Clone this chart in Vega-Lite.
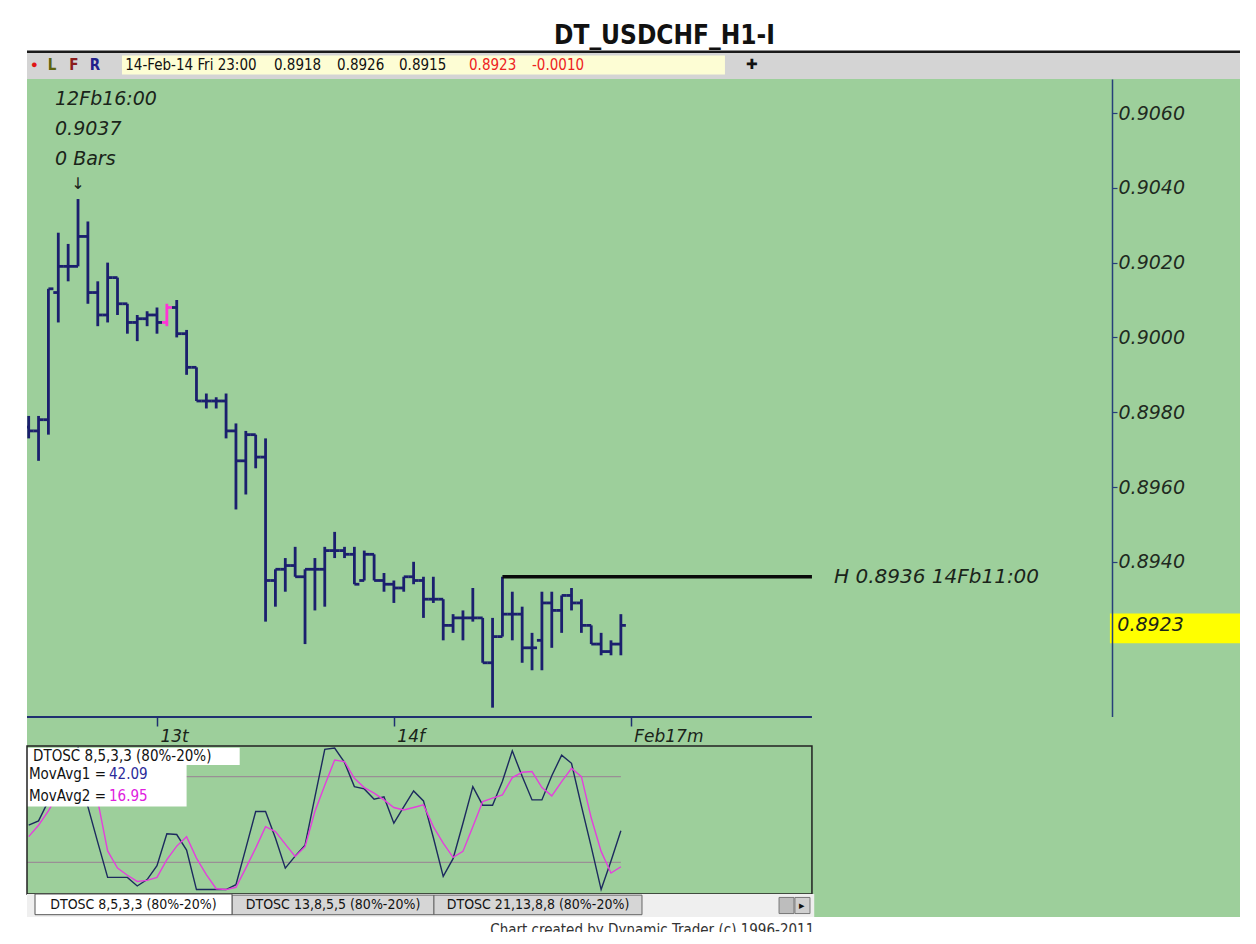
{
  "$schema": "https://vega.github.io/schema/vega-lite/v6.json",
  "background": "white",
  "padding": {"left": 25, "right": 18, "top": 22, "bottom": 12},
  "title": {"text": "DT_USDCHF_H1-I", "font": "'Liberation Sans Narrow', 'DejaVu Sans Condensed', sans-serif", "fontSize": 26, "fontWeight": "bold", "color": "#111111", "anchor": "middle", "dx": 31, "offset": 2},
  "config": {"view": {"stroke": null}, "concat": {"spacing": 0}},
  "datasets": {
    "one": [{}],
    "levels": [{"lvl": 80}, {"lvl": 20}],
    "bars": [
      {"t": -13, "o": 0.8976, "h": 0.8979, "l": 0.8973, "c": 0.8975},
      {"t": -12, "o": 0.8975, "h": 0.8979, "l": 0.8967, "c": 0.8978},
      {"t": -11, "o": 0.8978, "h": 0.9013, "l": 0.8974, "c": 0.9013},
      {"t": -10, "o": 0.9012, "h": 0.9028, "l": 0.9004, "c": 0.9019},
      {"t": -9, "o": 0.9019, "h": 0.9025, "l": 0.9015, "c": 0.9019},
      {"t": -8, "o": 0.9019, "h": 0.9037, "l": 0.9019, "c": 0.9027},
      {"t": -7, "o": 0.9027, "h": 0.9031, "l": 0.9009, "c": 0.9012},
      {"t": -6, "o": 0.9012, "h": 0.9015, "l": 0.9003, "c": 0.9006},
      {"t": -5, "o": 0.9006, "h": 0.9020, "l": 0.9004, "c": 0.9016},
      {"t": -4, "o": 0.9016, "h": 0.9016, "l": 0.9006, "c": 0.9009},
      {"t": -3, "o": 0.9009, "h": 0.9009, "l": 0.9001, "c": 0.9004},
      {"t": -2, "o": 0.9004, "h": 0.9006, "l": 0.8999, "c": 0.9005},
      {"t": -1, "o": 0.9005, "h": 0.9007, "l": 0.9003, "c": 0.9006},
      {"t": 0, "o": 0.9006, "h": 0.9008, "l": 0.9001, "c": 0.9004},
      {"t": 1, "o": 0.9004, "h": 0.9009, "l": 0.9003, "c": 0.9008},
      {"t": 2, "o": 0.9008, "h": 0.9010, "l": 0.9000, "c": 0.9001},
      {"t": 3, "o": 0.9001, "h": 0.9002, "l": 0.8990, "c": 0.8992},
      {"t": 4, "o": 0.8992, "h": 0.8992, "l": 0.8983, "c": 0.8983},
      {"t": 5, "o": 0.8983, "h": 0.8985, "l": 0.8981, "c": 0.8983},
      {"t": 6, "o": 0.8983, "h": 0.8984, "l": 0.8981, "c": 0.8983},
      {"t": 7, "o": 0.8983, "h": 0.8985, "l": 0.8973, "c": 0.8975},
      {"t": 8, "o": 0.8975, "h": 0.8977, "l": 0.8954, "c": 0.8967},
      {"t": 9, "o": 0.8967, "h": 0.8975, "l": 0.8958, "c": 0.8974},
      {"t": 10, "o": 0.8974, "h": 0.8974, "l": 0.8965, "c": 0.8968},
      {"t": 11, "o": 0.8968, "h": 0.8973, "l": 0.8924, "c": 0.8935},
      {"t": 12, "o": 0.8935, "h": 0.8938, "l": 0.8928, "c": 0.8938},
      {"t": 13, "o": 0.8938, "h": 0.8941, "l": 0.8932, "c": 0.8939},
      {"t": 14, "o": 0.8939, "h": 0.8944, "l": 0.8936, "c": 0.8936},
      {"t": 15, "o": 0.8936, "h": 0.8938, "l": 0.8918, "c": 0.8938},
      {"t": 16, "o": 0.8938, "h": 0.8941, "l": 0.8927, "c": 0.8938},
      {"t": 17, "o": 0.8938, "h": 0.8944, "l": 0.8928, "c": 0.8943},
      {"t": 18, "o": 0.8943, "h": 0.8948, "l": 0.8941, "c": 0.8943},
      {"t": 19, "o": 0.8943, "h": 0.8944, "l": 0.8941, "c": 0.8942},
      {"t": 20, "o": 0.8942, "h": 0.8944, "l": 0.8934, "c": 0.8934},
      {"t": 21, "o": 0.8935, "h": 0.8943, "l": 0.8935, "c": 0.8942},
      {"t": 22, "o": 0.8942, "h": 0.8942, "l": 0.8935, "c": 0.8935},
      {"t": 23, "o": 0.8935, "h": 0.8937, "l": 0.8932, "c": 0.8934},
      {"t": 24, "o": 0.8934, "h": 0.8935, "l": 0.8929, "c": 0.8933},
      {"t": 25, "o": 0.8933, "h": 0.8936, "l": 0.8932, "c": 0.8936},
      {"t": 26, "o": 0.8936, "h": 0.8940, "l": 0.8934, "c": 0.8935},
      {"t": 27, "o": 0.8935, "h": 0.8936, "l": 0.8925, "c": 0.8930},
      {"t": 28, "o": 0.8930, "h": 0.8936, "l": 0.8929, "c": 0.8930},
      {"t": 29, "o": 0.8930, "h": 0.8930, "l": 0.8919, "c": 0.8923},
      {"t": 30, "o": 0.8923, "h": 0.8926, "l": 0.8921, "c": 0.8925},
      {"t": 31, "o": 0.8925, "h": 0.8927, "l": 0.8919, "c": 0.8925},
      {"t": 32, "o": 0.8925, "h": 0.8933, "l": 0.8924, "c": 0.8925},
      {"t": 33, "o": 0.8925, "h": 0.8925, "l": 0.8913, "c": 0.8913},
      {"t": 34, "o": 0.8913, "h": 0.8925, "l": 0.8901, "c": 0.8920},
      {"t": 35, "o": 0.8920, "h": 0.8936, "l": 0.8920, "c": 0.8926},
      {"t": 36, "o": 0.8926, "h": 0.8932, "l": 0.8919, "c": 0.8926},
      {"t": 37, "o": 0.8926, "h": 0.8928, "l": 0.8913, "c": 0.8917},
      {"t": 38, "o": 0.8917, "h": 0.8921, "l": 0.8911, "c": 0.8917},
      {"t": 39, "o": 0.8919, "h": 0.8932, "l": 0.8911, "c": 0.8929},
      {"t": 40, "o": 0.8929, "h": 0.8932, "l": 0.8917, "c": 0.8927},
      {"t": 41, "o": 0.8927, "h": 0.8931, "l": 0.8921, "c": 0.8931},
      {"t": 42, "o": 0.8931, "h": 0.8933, "l": 0.8927, "c": 0.8929},
      {"t": 43, "o": 0.8929, "h": 0.8930, "l": 0.8921, "c": 0.8923},
      {"t": 44, "o": 0.8923, "h": 0.8923, "l": 0.8918, "c": 0.8918},
      {"t": 45, "o": 0.8918, "h": 0.8921, "l": 0.8915, "c": 0.8916},
      {"t": 46, "o": 0.8916, "h": 0.8919, "l": 0.8915, "c": 0.8918},
      {"t": 47, "o": 0.8918, "h": 0.8926, "l": 0.8915, "c": 0.8923}
    ],
    "osc": [
      {"t": -13, "fast": 46, "slow": 38},
      {"t": -12, "fast": 49, "slow": 46},
      {"t": -11, "fast": 63, "slow": 56},
      {"t": -10, "fast": 80, "slow": 68},
      {"t": -9, "fast": 93, "slow": 80},
      {"t": -8, "fast": 100, "slow": 90},
      {"t": -7, "fast": 59, "slow": 82},
      {"t": -6, "fast": 34, "slow": 63},
      {"t": -5, "fast": 9.5, "slow": 28},
      {"t": -4, "fast": 9.5, "slow": 16},
      {"t": -3, "fast": 9.5, "slow": 11},
      {"t": -2, "fast": 3.5, "slow": 6.7},
      {"t": -1, "fast": 8, "slow": 7.4},
      {"t": 0, "fast": 17.7, "slow": 9.5},
      {"t": 1, "fast": 40, "slow": 22},
      {"t": 2, "fast": 39.5, "slow": 31.4},
      {"t": 3, "fast": 28.6, "slow": 38},
      {"t": 4, "fast": 1, "slow": 23},
      {"t": 5, "fast": 1, "slow": 11.4},
      {"t": 6, "fast": 1, "slow": 1.6},
      {"t": 7, "fast": 1, "slow": 1},
      {"t": 8, "fast": 4.4, "slow": 2.6},
      {"t": 9, "fast": 29.8, "slow": 16},
      {"t": 10, "fast": 55.6, "slow": 30},
      {"t": 11, "fast": 55.6, "slow": 45},
      {"t": 12, "fast": 37, "slow": 41.6},
      {"t": 13, "fast": 16, "slow": 32.8},
      {"t": 14, "fast": 24.4, "slow": 24.2},
      {"t": 15, "fast": 32, "slow": 31},
      {"t": 16, "fast": 65.6, "slow": 55.6},
      {"t": 17, "fast": 99, "slow": 74},
      {"t": 18, "fast": 100, "slow": 91.6},
      {"t": 19, "fast": 89.9, "slow": 90.5},
      {"t": 20, "fast": 73, "slow": 78.8},
      {"t": 21, "fast": 71.4, "slow": 72.3},
      {"t": 22, "fast": 64.2, "slow": 68.4},
      {"t": 23, "fast": 65.8, "slow": 63.7},
      {"t": 24, "fast": 47.4, "slow": 58.4},
      {"t": 25, "fast": 58.8, "slow": 56.7},
      {"t": 26, "fast": 70, "slow": 58.4},
      {"t": 27, "fast": 63, "slow": 60.2},
      {"t": 28, "fast": 37.4, "slow": 45},
      {"t": 29, "fast": 10.2, "slow": 33.5},
      {"t": 30, "fast": 22.6, "slow": 23.5},
      {"t": 31, "fast": 47.4, "slow": 27.7},
      {"t": 32, "fast": 73, "slow": 45},
      {"t": 33, "fast": 60, "slow": 62.6},
      {"t": 34, "fast": 60, "slow": 65},
      {"t": 35, "fast": 76.7, "slow": 67.2},
      {"t": 36, "fast": 98, "slow": 79.3},
      {"t": 37, "fast": 80.2, "slow": 83},
      {"t": 38, "fast": 63.7, "slow": 83.5},
      {"t": 39, "fast": 63.7, "slow": 72.3},
      {"t": 40, "fast": 80.6, "slow": 66.5},
      {"t": 41, "fast": 95, "slow": 76.5},
      {"t": 42, "fast": 89.3, "slow": 85.8},
      {"t": 43, "fast": 59.5, "slow": 80},
      {"t": 44, "fast": 30.8, "slow": 51},
      {"t": 45, "fast": 1, "slow": 27.7},
      {"t": 46, "fast": 21, "slow": 12.6},
      {"t": 47, "fast": 42.09, "slow": 16.95}
    ]
  },
  "bounds": "flush",
  "spacing": 0,
  "resolve": {"scale": {"x": "independent", "y": "independent"}, "axis": {"x": "independent", "y": "independent"}},
  "vconcat": [
    {
      "width": 1213, "height": 28,
      "view": {"fill": "#d4d4d4", "stroke": null},
      "data": {"name": "one"},
      "layer": [
        {"mark": {"type": "rect", "color": "#fdfdd4"},
         "encoding": {
           "x": {"datum": 7.83, "type": "quantitative", "scale": {"domain": [0, 100], "nice": false, "zero": false}, "axis": null},
           "x2": {"datum": 57.54},
           "y": {"datum": 0.16, "type": "quantitative", "scale": {"domain": [0, 1], "nice": false, "zero": false}, "axis": null},
           "y2": {"datum": 0.84}}},
        {"mark": {"type": "rule", "color": "#1a1a1a", "strokeWidth": 2.5},
         "encoding": {"x": {"datum": 0, "type": "quantitative", "axis": null}, "x2": {"datum": 100}, "y": {"datum": 0.97, "type": "quantitative", "axis": null}}},
        {"mark": {"type": "text", "text": "●", "color": "#e01515", "fontSize": 11, "align": "center", "baseline": "middle"},
         "encoding": {"x": {"datum": 0.6, "type": "quantitative", "axis": null}, "y": {"datum": 0.5, "type": "quantitative", "axis": null}}},
        {"mark": {"type": "text", "text": "L", "color": "#5e6410", "fontSize": 15, "fontWeight": "bold", "font": "DejaVu Sans Condensed", "align": "center", "baseline": "middle"},
         "encoding": {"x": {"datum": 2.06, "type": "quantitative", "axis": null}, "y": {"datum": 0.5, "type": "quantitative", "axis": null}}},
        {"mark": {"type": "text", "text": "F", "color": "#8b1c1c", "fontSize": 15, "fontWeight": "bold", "font": "DejaVu Sans Condensed", "align": "center", "baseline": "middle"},
         "encoding": {"x": {"datum": 3.87, "type": "quantitative", "axis": null}, "y": {"datum": 0.5, "type": "quantitative", "axis": null}}},
        {"mark": {"type": "text", "text": "R", "color": "#20208b", "fontSize": 15, "fontWeight": "bold", "font": "DejaVu Sans Condensed", "align": "center", "baseline": "middle"},
         "encoding": {"x": {"datum": 5.61, "type": "quantitative", "axis": null}, "y": {"datum": 0.5, "type": "quantitative", "axis": null}}},
        {"mark": {"type": "text", "text": "14-Feb-14 Fri 23:00", "color": "#111111", "fontSize": 15, "font": "DejaVu Sans Condensed", "align": "left", "baseline": "middle"},
         "encoding": {"x": {"datum": 8.1, "type": "quantitative", "axis": null}, "y": {"datum": 0.5, "type": "quantitative", "axis": null}}},
        {"mark": {"type": "text", "text": "0.8918", "color": "#111111", "fontSize": 15, "font": "DejaVu Sans Condensed", "align": "left", "baseline": "middle"},
         "encoding": {"x": {"datum": 20.36, "type": "quantitative", "axis": null}, "y": {"datum": 0.5, "type": "quantitative", "axis": null}}},
        {"mark": {"type": "text", "text": "0.8926", "color": "#111111", "fontSize": 15, "font": "DejaVu Sans Condensed", "align": "left", "baseline": "middle"},
         "encoding": {"x": {"datum": 25.56, "type": "quantitative", "axis": null}, "y": {"datum": 0.5, "type": "quantitative", "axis": null}}},
        {"mark": {"type": "text", "text": "0.8915", "color": "#111111", "fontSize": 15, "font": "DejaVu Sans Condensed", "align": "left", "baseline": "middle"},
         "encoding": {"x": {"datum": 30.67, "type": "quantitative", "axis": null}, "y": {"datum": 0.5, "type": "quantitative", "axis": null}}},
        {"mark": {"type": "text", "text": "0.8923", "color": "#ee2222", "fontSize": 15, "font": "DejaVu Sans Condensed", "align": "left", "baseline": "middle"},
         "encoding": {"x": {"datum": 36.44, "type": "quantitative", "axis": null}, "y": {"datum": 0.5, "type": "quantitative", "axis": null}}},
        {"mark": {"type": "text", "text": "-0.0010", "color": "#ee2222", "fontSize": 15, "font": "DejaVu Sans Condensed", "align": "left", "baseline": "middle"},
         "encoding": {"x": {"datum": 41.63, "type": "quantitative", "axis": null}, "y": {"datum": 0.5, "type": "quantitative", "axis": null}}},
        {"mark": {"type": "text", "text": "✚", "color": "#111111", "fontSize": 14, "align": "center", "baseline": "middle"},
         "encoding": {"x": {"datum": 59.8, "type": "quantitative", "axis": null}, "y": {"datum": 0.5, "type": "quantitative", "axis": null}}}
      ]
    },
    {
      "width": 1213, "height": 638,
      "view": {"fill": "#9dcf9b", "stroke": null},
      "resolve": {"axis": {"y": "independent"}},
      "layer": [
        {"data": {"name": "bars"},
         "mark": {"type": "rule", "strokeWidth": 2.8, "clip": true},
         "encoding": {
           "x": {"field": "t", "type": "quantitative", "scale": {"domain": [-13.17, 109.73], "nice": false, "zero": false}, "axis": null},
           "y": {"field": "l", "type": "quantitative", "scale": {"domain": [0.88985, 0.90691], "nice": false, "zero": false},
                 "axis": {"orient": "right", "offset": -128, "zindex": 1, "values": [0.894, 0.896, 0.898, 0.9, 0.902, 0.904, 0.906], "format": ".4f", "title": null, "grid": false,
                          "domainColor": "#27407a", "domainWidth": 1.5, "tickColor": "#27407a", "tickWidth": 1.2, "tickSize": 5, "labelPadding": 1,
                          "labelFont": "DejaVu Sans", "labelFontStyle": "italic", "labelFontSize": 19, "labelColor": "#1f2a1f", "labelOverlap": false, "labelFlush": false}},
           "y2": {"field": "h"},
           "color": {"condition": {"test": "datum.t === 1", "value": "#ff33d6"}, "value": "#1b1f6e"}}},
        {"data": {"name": "bars"},
         "mark": {"type": "point", "shape": "M-1,0H0", "size": 100, "filled": false, "strokeWidth": 2.8, "opacity": 1, "clip": true},
         "encoding": {
           "x": {"field": "t", "type": "quantitative", "axis": null},
           "y": {"field": "o", "type": "quantitative", "axis": null},
           "color": {"condition": {"test": "datum.t === 1", "value": "#ff33d6"}, "value": "#1b1f6e"}}},
        {"data": {"name": "bars"},
         "mark": {"type": "point", "shape": "M0,0H1", "size": 100, "filled": false, "strokeWidth": 2.8, "opacity": 1, "clip": true},
         "encoding": {
           "x": {"field": "t", "type": "quantitative", "axis": null},
           "y": {"field": "c", "type": "quantitative", "axis": null},
           "color": {"condition": {"test": "datum.t === 1", "value": "#ff33d6"}, "value": "#1b1f6e"}}},
        {"data": {"name": "one"},
         "mark": {"type": "rule", "color": "#0a0a0a", "strokeWidth": 3.5},
         "encoding": {"x": {"datum": 35, "type": "quantitative", "axis": null}, "x2": {"datum": 66.36}, "y": {"datum": 0.8936, "type": "quantitative", "axis": null}}},
        {"data": {"name": "one"},
         "mark": {"type": "text", "text": "H 0.8936 14Fb11:00", "font": "DejaVu Sans", "fontStyle": "italic", "fontSize": 20, "color": "#1a241a", "align": "left", "baseline": "middle"},
         "encoding": {"x": {"datum": 68.6, "type": "quantitative", "axis": null}, "y": {"datum": 0.8936, "type": "quantitative", "axis": null}}},
        {"data": {"name": "one"},
         "mark": {"type": "text", "text": ["12Fb16:00", "0.9037", "0 Bars"], "lineHeight": 30, "font": "DejaVu Sans", "fontStyle": "italic", "fontSize": 19, "color": "#1a241a", "align": "left", "baseline": "top"},
         "encoding": {"x": {"datum": -10.33, "type": "quantitative", "axis": null}, "y": {"datum": 0.90662, "type": "quantitative", "axis": null}}},
        {"data": {"name": "one"},
         "mark": {"type": "text", "text": "↓", "font": "DejaVu Sans", "fontSize": 16, "color": "#1a241a", "align": "center", "baseline": "middle"},
         "encoding": {"x": {"datum": -8, "type": "quantitative", "axis": null}, "y": {"datum": 0.9041, "type": "quantitative", "axis": null}}},
        {"data": {"name": "one"},
         "mark": {"type": "rect", "color": "#ffff00"},
         "encoding": {"x": {"datum": 96.55, "type": "quantitative", "axis": null}, "x2": {"datum": 109.73}, "y": {"datum": 0.89262, "type": "quantitative", "axis": null}, "y2": {"datum": 0.89182}}},
        {"data": {"name": "one"},
         "mark": {"type": "text", "text": "0.8923", "font": "DejaVu Sans", "fontStyle": "italic", "fontSize": 19, "color": "#1a241a", "align": "left", "baseline": "middle"},
         "encoding": {"x": {"datum": 97.3, "type": "quantitative", "axis": null}, "y": {"datum": 0.8923, "type": "quantitative", "axis": null}}}
      ]
    },
    {
      "width": 1213, "height": 29,
      "view": {"fill": "#9dcf9b", "stroke": null},
      "data": {"name": "one"},
      "layer": [
        {"mark": {"type": "rule", "color": "#1f3070", "strokeWidth": 2},
         "encoding": {
           "x": {"datum": -13.17, "type": "quantitative", "scale": {"domain": [-13.17, 109.73], "nice": false, "zero": false},
                 "axis": {"orient": "bottom", "offset": -29, "domain": false, "values": [0, 24, 48], "labelExpr": "datum.value === 0 ? '13t' : datum.value === 24 ? '14f' : 'Feb17m'",
                          "title": null, "grid": false, "tickColor": "#1f3070", "tickSize": 9, "tickWidth": 1.5,
                          "labelAlign": "left", "labelOffset": 3, "labelPadding": 2, "labelFont": "DejaVu Sans", "labelFontStyle": "italic", "labelFontSize": 17, "labelColor": "#1a241a", "labelFlush": false, "labelOverlap": false}},
           "x2": {"datum": 66.36},
           "y": {"datum": 1, "type": "quantitative", "scale": {"domain": [0, 1], "nice": false, "zero": false}, "axis": null}}}
      ]
    },
    {
      "width": 1213, "height": 148,
      "view": {"fill": "#9dcf9b", "stroke": null},
      "layer": [
        {"data": {"name": "levels"},
         "mark": {"type": "rule", "color": "#9a8f95", "strokeWidth": 1.2},
         "encoding": {
           "x": {"datum": -13.17, "type": "quantitative", "scale": {"domain": [-13.17, 109.73], "nice": false, "zero": false}, "axis": null},
           "x2": {"datum": 47},
           "y": {"field": "lvl", "type": "quantitative", "scale": {"domain": [-2.1, 101.4], "nice": false, "zero": false}, "axis": null}}},
        {"data": {"name": "osc"},
         "mark": {"type": "line", "color": "#1c2a5e", "strokeWidth": 1.4, "clip": true},
         "encoding": {"x": {"field": "t", "type": "quantitative", "axis": null}, "y": {"field": "fast", "type": "quantitative", "axis": null}}},
        {"data": {"name": "osc"},
         "mark": {"type": "line", "color": "#e43fdc", "strokeWidth": 1.4, "clip": true},
         "encoding": {"x": {"field": "t", "type": "quantitative", "axis": null}, "y": {"field": "slow", "type": "quantitative", "axis": null}}},
        {"data": {"name": "one"},
         "mark": {"type": "rect", "color": "#ffffff"},
         "encoding": {"x": {"datum": -13.17, "type": "quantitative", "axis": null}, "x2": {"datum": 8.38}, "y": {"datum": 100.2, "type": "quantitative", "axis": null}, "y2": {"datum": 88.1}}},
        {"data": {"name": "one"},
         "mark": {"type": "rect", "color": "#ffffff"},
         "encoding": {"x": {"datum": -13.17, "type": "quantitative", "axis": null}, "x2": {"datum": 3.0}, "y": {"datum": 88.1, "type": "quantitative", "axis": null}, "y2": {"datum": 59.1}}},
        {"data": {"name": "one"},
         "mark": {"type": "text", "text": "DTOSC 8,5,3,3 (80%-20%)", "font": "DejaVu Sans Condensed", "fontSize": 15, "color": "#111111", "align": "left", "baseline": "middle"},
         "encoding": {"x": {"datum": -12.56, "type": "quantitative", "axis": null}, "y": {"datum": 94.4, "type": "quantitative", "axis": null}}},
        {"data": {"name": "one"},
         "mark": {"type": "text", "text": "MovAvg1 =", "font": "DejaVu Sans Condensed", "fontSize": 15, "color": "#111111", "align": "left", "baseline": "middle"},
         "encoding": {"x": {"datum": -12.97, "type": "quantitative", "axis": null}, "y": {"datum": 81.8, "type": "quantitative", "axis": null}}},
        {"data": {"name": "one"},
         "mark": {"type": "text", "text": "42.09", "font": "DejaVu Sans Condensed", "fontSize": 15, "color": "#2a2a9a", "align": "left", "baseline": "middle"},
         "encoding": {"x": {"datum": -4.86, "type": "quantitative", "axis": null}, "y": {"datum": 81.8, "type": "quantitative", "axis": null}}},
        {"data": {"name": "one"},
         "mark": {"type": "text", "text": "MovAvg2 =", "font": "DejaVu Sans Condensed", "fontSize": 15, "color": "#111111", "align": "left", "baseline": "middle"},
         "encoding": {"x": {"datum": -12.97, "type": "quantitative", "axis": null}, "y": {"datum": 66.4, "type": "quantitative", "axis": null}}},
        {"data": {"name": "one"},
         "mark": {"type": "text", "text": "16.95", "font": "DejaVu Sans Condensed", "fontSize": 15, "color": "#e020e0", "align": "left", "baseline": "middle"},
         "encoding": {"x": {"datum": -4.86, "type": "quantitative", "axis": null}, "y": {"datum": 66.4, "type": "quantitative", "axis": null}}},
        {"data": {"name": "one"},
         "mark": {"type": "rect", "fillOpacity": 0, "fill": "#ffffff", "stroke": "#222222", "strokeWidth": 1.5},
         "encoding": {"x": {"datum": -13.17, "type": "quantitative", "axis": null}, "x2": {"datum": 66.36}, "y": {"datum": -2.1, "type": "quantitative", "axis": null}, "y2": {"datum": 101.4}}}
      ]
    },
    {
      "width": 1213, "height": 23,
      "view": {"fill": "#9dcf9b", "stroke": null},
      "data": {"name": "one"},
      "layer": [
        {"mark": {"type": "rect", "color": "#efefef"},
         "encoding": {"x": {"datum": 0, "type": "quantitative", "scale": {"domain": [0, 100], "nice": false, "zero": false}, "axis": null}, "x2": {"datum": 64.9},
                      "y": {"datum": 0, "type": "quantitative", "scale": {"domain": [0, 1], "nice": false, "zero": false}, "axis": null}, "y2": {"datum": 1}}},
        {"mark": {"type": "rect", "color": "#d6d6d6", "stroke": "#666666", "strokeWidth": 1},
         "encoding": {"x": {"datum": 16.9, "type": "quantitative", "axis": null}, "x2": {"datum": 33.55}, "y": {"datum": 0.1, "type": "quantitative", "axis": null}, "y2": {"datum": 0.95}}},
        {"mark": {"type": "rect", "color": "#d6d6d6", "stroke": "#666666", "strokeWidth": 1},
         "encoding": {"x": {"datum": 33.55, "type": "quantitative", "axis": null}, "x2": {"datum": 50.7}, "y": {"datum": 0.1, "type": "quantitative", "axis": null}, "y2": {"datum": 0.95}}},
        {"mark": {"type": "rect", "color": "#ffffff", "stroke": "#555555", "strokeWidth": 1},
         "encoding": {"x": {"datum": 0.66, "type": "quantitative", "axis": null}, "x2": {"datum": 16.9}, "y": {"datum": 0.1, "type": "quantitative", "axis": null}, "y2": {"datum": 1.0}}},
        {"mark": {"type": "rect", "color": "#bdbdbd", "stroke": "#777777", "strokeWidth": 1},
         "encoding": {"x": {"datum": 62.0, "type": "quantitative", "axis": null}, "x2": {"datum": 63.23}, "y": {"datum": 0.15, "type": "quantitative", "axis": null}, "y2": {"datum": 0.85}}},
        {"mark": {"type": "rect", "color": "#d0d0d0", "stroke": "#777777", "strokeWidth": 1},
         "encoding": {"x": {"datum": 63.31, "type": "quantitative", "axis": null}, "x2": {"datum": 64.55}, "y": {"datum": 0.15, "type": "quantitative", "axis": null}, "y2": {"datum": 0.85}}},
        {"mark": {"type": "text", "text": "▸", "fontSize": 11, "color": "#111111", "align": "center", "baseline": "middle"},
         "encoding": {"x": {"datum": 63.93, "type": "quantitative", "axis": null}, "y": {"datum": 0.5, "type": "quantitative", "axis": null}}},
        {"mark": {"type": "text", "text": "DTOSC 8,5,3,3 (80%-20%)", "font": "DejaVu Sans Condensed", "fontSize": 14, "color": "#111111", "align": "center", "baseline": "middle"},
         "encoding": {"x": {"datum": 8.78, "type": "quantitative", "axis": null}, "y": {"datum": 0.52, "type": "quantitative", "axis": null}}},
        {"mark": {"type": "text", "text": "DTOSC 13,8,5,5 (80%-20%)", "font": "DejaVu Sans Condensed", "fontSize": 14, "color": "#111111", "align": "center", "baseline": "middle"},
         "encoding": {"x": {"datum": 25.23, "type": "quantitative", "axis": null}, "y": {"datum": 0.52, "type": "quantitative", "axis": null}}},
        {"mark": {"type": "text", "text": "DTOSC 21,13,8,8 (80%-20%)", "font": "DejaVu Sans Condensed", "fontSize": 14, "color": "#111111", "align": "center", "baseline": "middle"},
         "encoding": {"x": {"datum": 42.13, "type": "quantitative", "axis": null}, "y": {"datum": 0.52, "type": "quantitative", "axis": null}}}
      ]
    },
    {
      "width": 1213, "height": 15,
      "view": {"fill": "#ffffff", "stroke": null},
      "data": {"name": "one"},
      "mark": {"type": "text", "text": "Chart created by Dynamic Trader  (c) 1996-2011", "font": "DejaVu Sans Condensed", "fontSize": 15, "color": "#333333", "align": "right", "baseline": "alphabetic", "dy": 3, "clip": true},
      "encoding": {
        "x": {"datum": 64.9, "type": "quantitative", "scale": {"domain": [0, 100], "nice": false, "zero": false}, "axis": null},
        "y": {"datum": 0, "type": "quantitative", "scale": {"domain": [0, 1], "nice": false, "zero": false}, "axis": null}}
    }
  ]
}
